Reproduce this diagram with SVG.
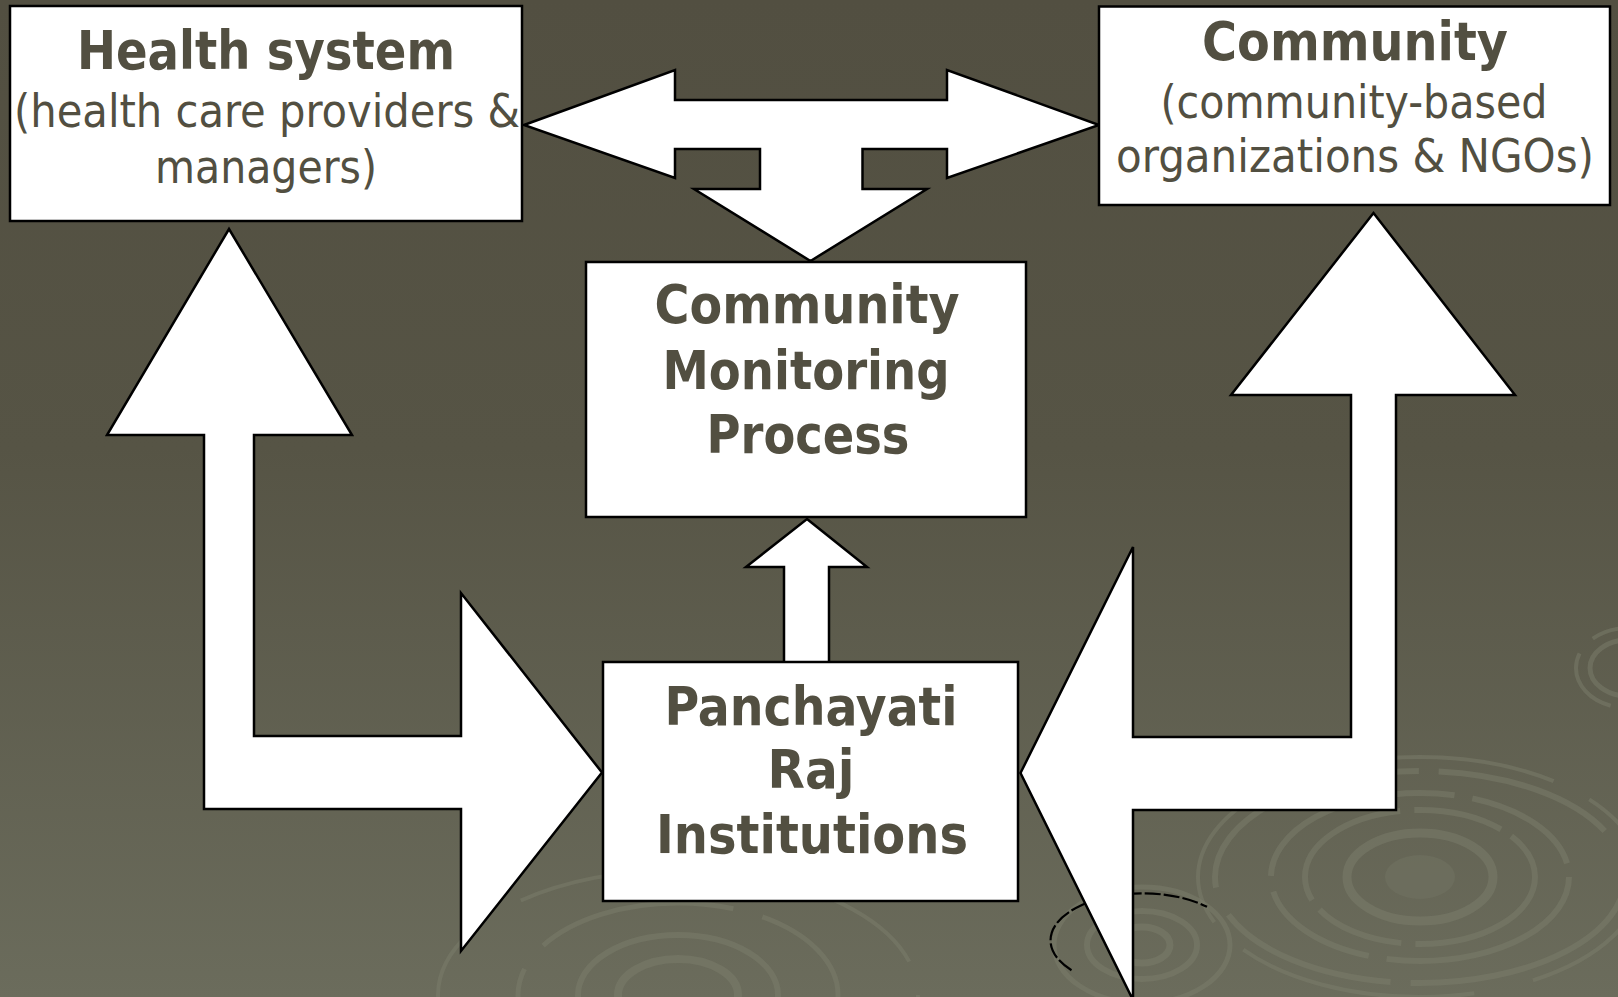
<svg xmlns="http://www.w3.org/2000/svg" width="1618" height="997" viewBox="0 0 1618 997">
  <defs>
    <linearGradient id="bg" x1="0" y1="0" x2="0" y2="1">
      <stop offset="0" stop-color="#524f41"/>
      <stop offset="0.45" stop-color="#565445"/>
      <stop offset="1" stop-color="#6b6c5c"/>
    </linearGradient>
    <style>
      .box { fill: #ffffff; stroke: #000000; stroke-width: 2.5; }
      .arrow { fill: #ffffff; stroke: #000000; stroke-width: 2.5; stroke-linejoin: miter; }
      .ring { fill: none; stroke: #7b7e6c; stroke-opacity: 0.5; }
      .title { font-family: "DejaVu Sans Condensed", "DejaVu Sans", Verdana, sans-serif; font-weight: bold; font-size: 54px; fill: #524f41; text-anchor: middle; }
      .sub { font-family: "DejaVu Sans Condensed", "DejaVu Sans", Verdana, sans-serif; font-size: 47px; fill: #524f41; text-anchor: middle; }
    </style>
  </defs>

  <!-- backdrop with ripple decoration -->
  <g id="background">
    <rect x="0" y="0" width="1618" height="997" fill="url(#bg)"/>
    <!-- large ripple, lower right -->
    <ellipse cx="1420" cy="877" rx="35" ry="22" fill="#6f7161" fill-opacity="0.6"/>
    <ellipse class="ring" cx="1420" cy="877" rx="73" ry="44" stroke-width="9"/>
    <ellipse class="ring" cx="1420" cy="877" rx="115" ry="67" stroke-width="6" stroke-dasharray="150 14 90 12"/>
    <ellipse class="ring" cx="1420" cy="877" rx="149" ry="84" stroke-width="6" stroke-dasharray="220 18 120 16"/>
    <ellipse class="ring" cx="1420" cy="877" rx="205" ry="106" stroke-width="6" stroke-dasharray="260 20 180 30"/>
    <ellipse class="ring" cx="1420" cy="877" rx="222" ry="120" stroke-width="4" stroke-dasharray="160 60 240 40"/>
    <!-- ripple beside the right arrow -->
    <ellipse class="ring" cx="1142" cy="945" rx="28" ry="18" stroke-width="7"/>
    <ellipse class="ring" cx="1142" cy="945" rx="55" ry="34" stroke-width="6"/>
    <ellipse class="ring" cx="1142" cy="945" rx="88" ry="58" stroke-width="5"/>
    <path d="M 1071.5 970.2 A 92 47 0 0 1 1207 906.8" fill="none" stroke="#000000" stroke-width="2.2" stroke-dasharray="16 3"/>
    <!-- ripple, bottom centre -->
    <ellipse class="ring" cx="678" cy="995" rx="60" ry="36" stroke-width="8"/>
    <ellipse class="ring" cx="678" cy="995" rx="100" ry="60" stroke-width="6"/>
    <ellipse class="ring" cx="678" cy="995" rx="160" ry="92" stroke-width="5" stroke-dasharray="200 30"/>
    <ellipse class="ring" cx="678" cy="995" rx="240" ry="125" stroke-width="4" stroke-dasharray="180 60"/>
    <!-- ripple at right edge -->
    <ellipse class="ring" cx="1628" cy="668" rx="38" ry="28" stroke-width="5"/>
    <ellipse class="ring" cx="1628" cy="668" rx="52" ry="40" stroke-width="4" stroke-dasharray="70 20"/>
  </g>

  <!-- block arrows linking the boxes -->
  <g id="connectors">
    <!-- health system <-> community, branching down to monitoring -->
    <polygon class="arrow" points="524,125 675,70 675,100 947,100 947,70 1099,125 947,178 947,149 862.5,149 862.5,189 927,189 810.5,261 694,189 760,189 760,149 675,149 675,178"/>
    <!-- health system <-> panchayati raj -->
    <polygon class="arrow" points="229,229 352,435 254,435 254,736 461,736 461,593 602,772.5 461,951 461,809 204,809 204,435 107,435"/>
    <!-- community <-> panchayati raj -->
    <polygon class="arrow" points="1373.5,213 1515,395 1396,395 1396,810 1133,810 1133,1000 1020.5,773 1133,547 1133,737 1351,737 1351,395 1231,395"/>
    <!-- panchayati raj -> monitoring -->
    <polygon class="arrow" points="807,519 867,567 829,567 829,663 784,663 784,567 746,567"/>
  </g>

  <g id="health-system">
    <rect class="box" x="10" y="6" width="512" height="215"/>
    <text class="title" x="266" y="69" textLength="378" lengthAdjust="spacingAndGlyphs">Health system</text>
    <text class="sub" x="267" y="127" textLength="506" lengthAdjust="spacingAndGlyphs">(health care providers &amp;</text>
    <text class="sub" x="266" y="183" textLength="222" lengthAdjust="spacingAndGlyphs">managers)</text>
  </g>

  <g id="community">
    <rect class="box" x="1099" y="6.5" width="511" height="198.5"/>
    <text class="title" x="1355" y="60" textLength="306" lengthAdjust="spacingAndGlyphs">Community</text>
    <text class="sub" x="1354" y="118" textLength="387" lengthAdjust="spacingAndGlyphs">(community-based</text>
    <text class="sub" x="1355" y="172" textLength="478" lengthAdjust="spacingAndGlyphs">organizations &amp; NGOs)</text>
  </g>

  <g id="monitoring">
    <rect class="box" x="586" y="262" width="440" height="255"/>
    <text class="title" x="807" y="323" textLength="305" lengthAdjust="spacingAndGlyphs">Community</text>
    <text class="title" x="806" y="389" textLength="287" lengthAdjust="spacingAndGlyphs">Monitoring</text>
    <text class="title" x="808" y="453" textLength="203" lengthAdjust="spacingAndGlyphs">Process</text>
  </g>

  <g id="panchayati-raj">
    <rect class="box" x="603" y="662" width="415" height="239"/>
    <text class="title" x="811" y="725" textLength="293" lengthAdjust="spacingAndGlyphs">Panchayati</text>
    <text class="title" x="811" y="788">Raj</text>
    <text class="title" x="812" y="853" textLength="312" lengthAdjust="spacingAndGlyphs">Institutions</text>
  </g>
</svg>
